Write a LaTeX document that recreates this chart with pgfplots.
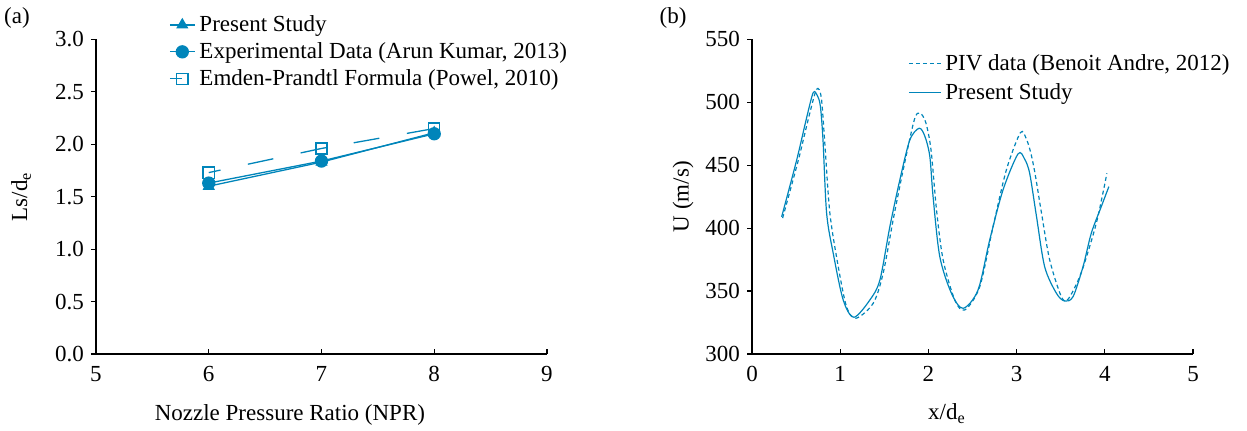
\documentclass[border=0pt]{standalone}
\usepackage{pgfplots}
\pgfplotsset{compat=1.18}
\usepackage{fontspec}
\setmainfont{Liberation Serif}
\definecolor{cb}{RGB}{0,133,186}
\begin{document}
\begin{tikzpicture}[font=\fontsize{11.5}{13.8}\selectfont]
\path[use as bounding box] (0,0) rectangle (623.5pt,215pt);
\pgfplotsset{
 myax/.style={
  scale only axis, height=157.3pt, axis lines=left,
  axis line style={-, line width=0.6pt},
  tick align=outside, major tick length=2.5pt,
  tick style={line width=0.6pt, color=black},
  major x tick style={yshift=2.5pt},
  /pgf/number format/assume math mode=true,
  clip=false,
  legend cell align=left,
  legend style={draw=none, fill=none, row sep=0pt, font=\fontsize{11.5}{13.8}\selectfont},
 }
}
\begin{axis}[myax, at={(48pt,38pt)}, anchor=south west, width=225.5pt,
 xmin=5, xmax=9, ymin=0, ymax=3,
 xtick={5,6,7,8,9}, ytick={0,0.5,1,1.5,2,2.5,3},
 yticklabel style={/pgf/number format/.cd, fixed, fixed zerofill, precision=1},
 xlabel={Nozzle Pressure Ratio (NPR)}, ylabel={Ls/d\textsubscript{e}},
 xlabel style={at={(axis description cs:0.43,-0.194)}, anchor=center},
 ylabel style={at={(axis description cs:-0.166,0.5)}, anchor=center},
 legend style={at={(axis description cs:0.148,1.103)}, anchor=north west},
 legend image code/.code={\draw[mark repeat=2,mark phase=2] plot coordinates {(0cm,0cm) (0.22cm,0cm) (0.44cm,0cm)};}
]
\addplot[cb, line width=0.65pt, mark=triangle*, mark size=2.9pt] coordinates {(6,1.60) (7,1.83) (8,2.11)};
\addlegendentry{Present Study}
\addplot[cb, line width=0.65pt, mark=*, mark size=3pt] coordinates {(6,1.63) (7,1.84) (8,2.10)};
\addlegendentry{Experimental Data (Arun Kumar, 2013)}
\addplot[cb, line width=0.65pt, dash pattern=on 13pt off 14pt, dash phase=7pt, mark=square, mark size=2.8pt, mark options={solid}] coordinates {(6,1.73) (7,1.96) (8,2.15)};
\addlegendentry{Emden-Prandtl Formula (Powel, 2010)}
\end{axis}

\begin{axis}[myax, at={(376pt,38pt)}, anchor=south west, width=220.5pt,
 xmin=0, xmax=5, ymin=300, ymax=550,
 xtick={0,1,2,3,4,5}, ytick={300,350,400,450,500,550},
 xlabel={x/d\textsubscript{e}}, ylabel={U (m/s)},
 xlabel style={at={(axis description cs:0.442,-0.19)}, anchor=center},
 ylabel style={at={(axis description cs:-0.156,0.5)}, anchor=center},
 legend style={at={(axis description cs:0.34,0.98)}, anchor=north west, row sep=1pt},
 legend image code/.code={\draw plot coordinates {(0cm,0cm) (0.56cm,0cm)};}
]
\addplot[cb, line width=0.6pt, dash pattern=on 2pt off 1.5pt, smooth] coordinates {
(0.347,408) (0.525,454) (0.65,490) (0.733,510.4) (0.785,504) (0.825,468) (0.883,411.9)
(0.978,369.4) (1.072,337.6) (1.178,328.4) (1.374,340.3) (1.487,364.2) (1.6,406.5)
(1.714,446.3) (1.84,486) (1.903,491.5) (1.97,484) (2.03,462) (2.092,414.5)
(2.167,374.8) (2.299,342.9) (2.412,335) (2.582,353.5) (2.733,401.2) (2.884,446.3)
(3.043,475.9) (3.11,471) (3.16,460) (3.21,443) (3.28,413) (3.375,374.8) (3.507,345.6)
(3.583,343.5) (3.715,361.4) (3.828,385.3) (3.922,409.2) (4.024,443.6)};
\addlegendentry{PIV data (Benoit Andre, 2012)}
\addplot[cb, line width=0.6pt, smooth] coordinates {
(0.336,409) (0.506,454) (0.62,488) (0.694,507.7) (0.74,505.5) (0.775,497) (0.805,470)
(0.846,411.9) (0.921,380) (1.034,342.9) (1.155,329.2) (1.336,342.9) (1.45,358.8)
(1.563,401.2) (1.676,438.3) (1.789,470) (1.895,479.4) (1.96,473) (2.016,457)
(2.053,425) (2.129,377.4) (2.261,348.3) (2.393,336.3) (2.563,350.9) (2.695,390.6)
(2.846,430.4) (3.016,459) (3.09,455) (3.148,443.6) (3.224,410) (3.318,369.4)
(3.451,348.3) (3.545,342.1) (3.64,345.6) (3.753,369.4) (3.847,396) (3.96,417.1) (4.046,433)};
\addlegendentry{Present Study}
\end{axis}

\node at (8.5pt,206pt) {(a)};
\node at (336.5pt,206pt) {(b)};
\end{tikzpicture}
\end{document}
